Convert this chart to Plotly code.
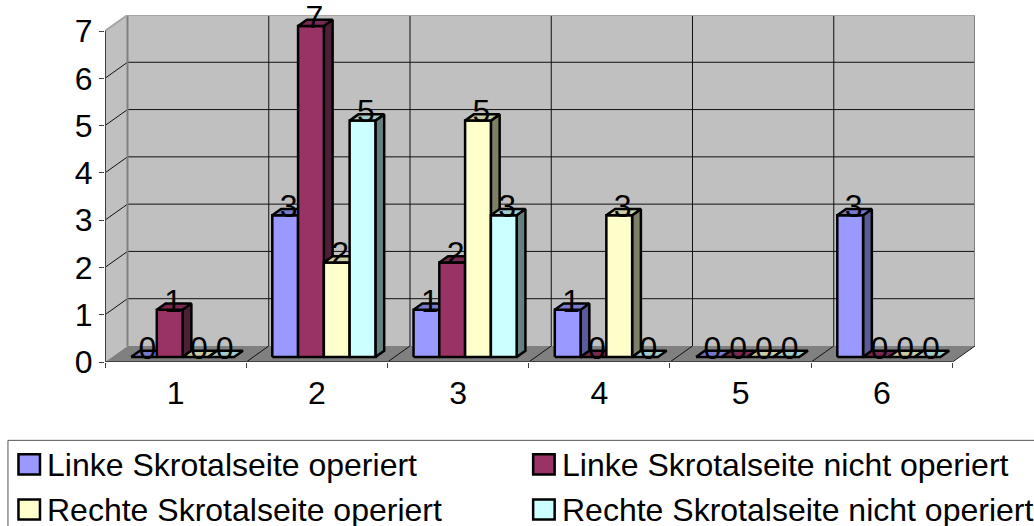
import plotly.graph_objects as go

categories = ["1", "2", "3", "4", "5", "6"]
y_ticks = [0, 1, 2, 3, 4, 5, 6, 7]
series_names = [
    "Linke Skrotalseite operiert",
    "Linke Skrotalseite nicht operiert",
    "Rechte Skrotalseite operiert",
    "Rechte Skrotalseite nicht operiert",
]
linke_operiert = [0, 3, 1, 1, 0, 3]
linke_nicht_operiert = [1, 7, 2, 0, 0, 0]
rechte_operiert = [0, 2, 5, 3, 0, 0]
rechte_nicht_operiert = [0, 5, 3, 0, 0, 0]
series_values = [linke_operiert, linke_nicht_operiert, rechte_operiert, rechte_nicht_operiert]

front_colors = ["#9999ff", "#993366", "#ffffcc", "#ccffff"]
side_colors = ["#5b5b99", "#4f1f38", "#7f7f66", "#668080"]
top_colors = ["#7a7acc", "#7a2952", "#ccccA3", "#a3cccc"]

# Plot frame in page pixels; the oblique depth axis runs up and to the right.
WIDTH, HEIGHT = 1034, 526
LEFT, BOTTOM = 105.0, 361.7
CAT_PX, VAL_PX = 141.2, 47.25
DEPTH_X_PX, DEPTH_Y_PX = 22.5, 16.0
DX = DEPTH_X_PX / CAT_PX
DY = DEPTH_Y_PX / VAL_PX
N_CAT = len(categories)
V_MAX = y_ticks[-1]
X_MAX = N_CAT + DX
Y_MAX = V_MAX + DY
PLOT_W = X_MAX * CAT_PX
PLOT_H = Y_MAX * VAL_PX

GROUP_GAP = 0.135
BAR_W = 0.1825
DEPTH_NEAR, DEPTH_FAR = 0.31, 0.70
BAR_EDGE = 2.5
FONT = "Liberation Sans, Arial, sans-serif"
FONT_SIZE = 32


def proj(x, v, d):
    """Project category position, value and depth onto the flat axes."""
    return x + d * DX, v + d * DY


def poly(points, fill=None, line="black", width=1.0):
    xs = [p[0] for p in points]
    ys = [p[1] for p in points]
    return go.Scatter(
        x=xs, y=ys, mode="lines", fill="toself" if fill else "none",
        fillcolor=fill, line=dict(color=line, width=width),
        hoverinfo="skip", showlegend=False, cliponaxis=False,
    )


fig = go.Figure()

# Walls and floor
fig.add_trace(poly([proj(0, 0, 1), proj(N_CAT, 0, 1), proj(N_CAT, V_MAX, 1), proj(0, V_MAX, 1), proj(0, 0, 1)],
                   fill="#c0c0c0", line="#c0c0c0", width=0))
fig.add_trace(poly([proj(0, 0, 0), proj(0, 0, 1), proj(0, V_MAX, 1), proj(0, V_MAX, 0), proj(0, 0, 0)],
                   fill="#c0c0c0", line="#c0c0c0", width=0))
fig.add_trace(poly([proj(0, 0, 0), proj(N_CAT, 0, 0), proj(N_CAT, 0, 1), proj(0, 0, 1), proj(0, 0, 0)],
                   fill="#808080", line="#808080", width=0))

# Grid lines on the walls and floor
for v in y_ticks[1:-1]:
    fig.add_trace(poly([proj(0, v, 0), proj(0, v, 1), proj(N_CAT, v, 1)], line="#101010", width=1))
for k in range(1, N_CAT):
    fig.add_trace(poly([proj(k, 0, 0), proj(k, 0, 1), proj(k, V_MAX, 1)], line="#101010", width=1))

# Wall outlines
fig.add_trace(poly([proj(0, 0, 1), proj(0, V_MAX, 1)], line="#808080", width=2))
fig.add_trace(poly([proj(N_CAT, 0, 1), proj(N_CAT, V_MAX, 1)], line="#808080", width=2))
fig.add_trace(poly([proj(0, V_MAX, 0), proj(0, V_MAX, 1), proj(N_CAT, V_MAX, 1)], line="#a6a6a6", width=2))

# Axis lines along the front of the box
fig.add_trace(poly([proj(N_CAT, 0, 0), proj(N_CAT, 0, 1)], line="#202020", width=1))
fig.add_trace(poly([proj(0, V_MAX, 0), proj(0, 0, 0), proj(N_CAT, 0, 0)], line="#404040", width=2))

# Bars, left to right so that each one covers its neighbour's side face
label_x, label_y, label_text = [], [], []
for c in range(N_CAT):
    for s, values in enumerate(series_values):
        v = values[c]
        x0 = c + GROUP_GAP + s * BAR_W
        x1 = x0 + BAR_W
        if v > 0:
            fig.add_trace(poly(
                [proj(x1, 0, DEPTH_NEAR), proj(x1, 0, DEPTH_FAR), proj(x1, v, DEPTH_FAR),
                 proj(x1, v, DEPTH_NEAR), proj(x1, 0, DEPTH_NEAR)],
                fill=side_colors[s], width=BAR_EDGE))
            fig.add_trace(poly(
                [proj(x0, 0, DEPTH_NEAR), proj(x1, 0, DEPTH_NEAR), proj(x1, v, DEPTH_NEAR),
                 proj(x0, v, DEPTH_NEAR), proj(x0, 0, DEPTH_NEAR)],
                fill=front_colors[s], width=BAR_EDGE))
        fig.add_trace(poly(
            [proj(x0, v, DEPTH_NEAR), proj(x1, v, DEPTH_NEAR), proj(x1, v, DEPTH_FAR),
             proj(x0, v, DEPTH_FAR), proj(x0, v, DEPTH_NEAR)],
            fill=top_colors[s], width=BAR_EDGE))
        label_x.append(proj((x0 + x1) / 2, 0, 0.46)[0])
        label_y.append(proj(0, v, DEPTH_FAR)[1])
        label_text.append(str(v))

# Value labels sit above every bar
fig.add_trace(go.Scatter(
    x=label_x, y=label_y, text=label_text, mode="text", textposition="middle center",
    textfont=dict(family=FONT, size=FONT_SIZE, color="black"),
    hoverinfo="skip", showlegend=False, cliponaxis=False,
))


# Legend box, drawn in page pixels and running past the right edge of the page
def page_x(px):
    return (px - LEFT) / PLOT_W


def page_y(py):
    return (BOTTOM - py) / PLOT_H


shapes = [dict(type="rect", xref="paper", yref="paper",
               x0=page_x(8), x1=page_x(WIDTH + 20), y0=page_y(440), y1=page_y(HEIGHT + 20),
               line=dict(color="#555555", width=1), fillcolor="white", layer="above")]
annotations = []
legend_slots = [(18.5, 464), (533, 464), (18.5, 509), (533, 509)]
legend_order = [0, 1, 2, 3]
for slot, s in zip(legend_slots, legend_order):
    sx, sy = slot
    shapes.append(dict(type="rect", xref="paper", yref="paper",
                       x0=page_x(sx), x1=page_x(sx + 21.5), y0=page_y(sy - 10), y1=page_y(sy + 10),
                       line=dict(color="black", width=2.5), fillcolor=front_colors[s], layer="above"))
    annotations.append(dict(xref="paper", yref="paper", x=page_x(sx + 27), y=page_y(sy + 0.5),
                            text=series_names[s], showarrow=False, xanchor="left", yanchor="middle",
                            font=dict(family=FONT, size=FONT_SIZE, color="black")))

fig.update_layout(
    width=WIDTH, height=HEIGHT, autosize=False,
    margin=dict(l=LEFT, r=WIDTH - LEFT - PLOT_W, t=BOTTOM - PLOT_H, b=HEIGHT - BOTTOM, pad=0),
    paper_bgcolor="white", plot_bgcolor="white",
    font=dict(family=FONT, size=FONT_SIZE, color="black"),
    xaxis=dict(
        range=[0, X_MAX], showgrid=False, zeroline=False, showline=False,
        tickmode="array", tickvals=[i + 0.5 for i in range(N_CAT)], ticktext=categories,
        ticks="", ticklabelstandoff=9,
        minor=dict(tickmode="array", tickvals=list(range(N_CAT + 1)), ticks="outside",
                   ticklen=5, tickwidth=1, tickcolor="#404040", showgrid=False),
    ),
    yaxis=dict(
        range=[0, Y_MAX], showgrid=False, zeroline=False, showline=False,
        tickmode="array", tickvals=y_ticks, ticktext=[str(t) for t in y_ticks],
        ticks="outside", ticklen=5, tickwidth=1, tickcolor="#404040",
    ),
    shapes=shapes, annotations=annotations,
)

fig.write_html("out.html")
